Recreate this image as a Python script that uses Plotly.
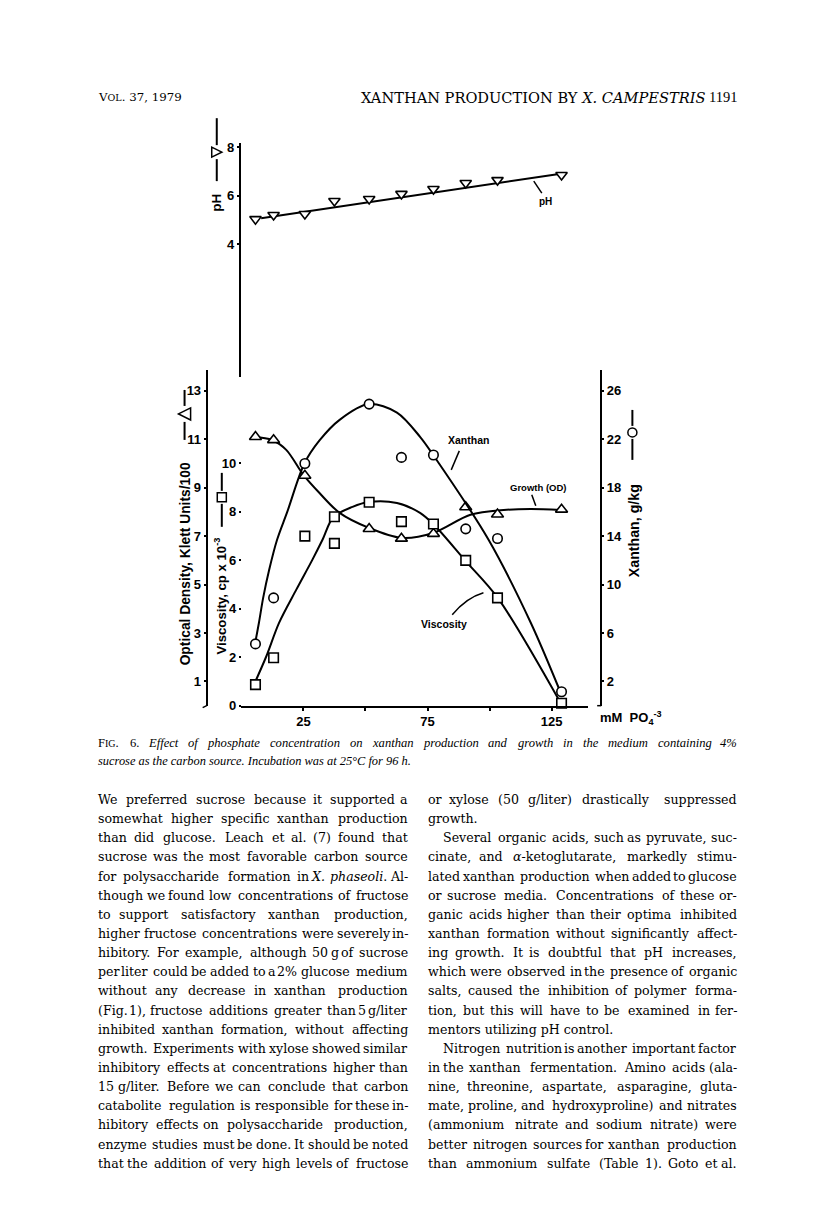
import re
import plotly.graph_objects as go

# page coordinates below are the reference's pixels; px/py map them onto the figure
OFF = 8                   # default body margin of the html page
SX, CX = 0.9937, 2.6      # small screen scaling seen on the rendered page
SY, CY = 0.9916, 2.8
W, H = 800, 1190

# ---------------- data ----------------
# phosphate concentration, mM PO4-3
conc = [5.7, 13, 25.6, 37.5, 51.5, 64.5, 77.4, 90.4, 103.2, 129]
ph = [5.03, 5.2, 5.24, 5.78, 5.86, 6.07, 6.27, 6.52, 6.64, 6.85]
ph_fit_x = [8, 128]
ph_fit_y = [5.07, 6.89]

xan_x = [5.7, 13, 25.6, 51.5, 64.5, 77.4, 90.4, 103.2, 129]
xanthan = [5.1, 8.9, 20.0, 24.9, 20.5, 20.7, 14.6, 13.8, 1.15]
xan_curve_x = [5.5, 7.1, 8.8, 11.2, 14.4, 18.5, 25.4, 31.5, 39.6, 51.4, 62.7, 72.0, 77.3, 99.6, 116.6, 128.5]
xan_curve_y = [5.1, 6.85, 8.9, 11.2, 13.7, 16.0, 20.0, 21.9, 23.6, 24.9, 24.2, 22.2, 20.7, 13.7, 6.85, 1.15]

growth_x = [5.7, 13, 25.6, 51.5, 64.5, 77.4, 90.4, 103.2, 129]
growth = [11.1, 10.97, 9.5, 7.3, 6.9, 7.1, 8.2, 7.9, 8.1]
growth_curve_x = [4.7, 12.4, 18.1, 25.0, 31.5, 39.6, 51.4, 64.4, 77.3, 92.3, 105.7, 116.6, 128.8]
growth_curve_y = [11.09, 10.97, 10.56, 9.53, 8.78, 7.96, 7.34, 6.93, 7.13, 7.88, 8.08, 8.12, 8.08]

visc_x = [5.7, 13, 25.6, 37.5, 37.5, 51.5, 64.5, 77.4, 90.4, 103.2, 129]
viscosity = [0.87, 1.98, 7.0, 7.8, 6.7, 8.4, 7.6, 7.5, 6.0, 4.45, 0.1]
visc_curve_x = [5.1, 10.0, 15.2, 22.1, 28.6, 32.7, 37.1, 44.8, 51.3, 62.7, 72.0, 77.7, 90.3, 103.3, 128.8]
visc_curve_y = [0.87, 2.02, 3.42, 4.78, 6.02, 6.85, 7.79, 8.21, 8.41, 8.37, 7.96, 7.46, 5.98, 4.45, 0.08]

x_ticks = [25, 50, 75, 100, 125]
x_ticktext = ["25", "", "75", "", "125"]
od_ticks = [1, 3, 5, 7, 9, 11, 13]
visc_ticks = [0, 2, 4, 6, 8, 10]
xan_ticks = [2, 6, 10, 14, 18, 22, 26]
ph_ticks = [4, 6, 8]

# ---------------- page text ----------------
header_left = "V<span style='font-size:9.5px'>OL</span>. 37, 1979"
header_right = "XANTHAN PRODUCTION BY <i>X. CAMPESTRIS</i>"
page_no = "1191"
cap1 = ("Effect of phosphate concentration on xanthan production and growth "
        "in the medium containing 4%")
cap2 = "sucrose as the carbon source. Incubation was at 25°C for 96 h."
left_col = [
    "We preferred sucrose because it supported a",
    "somewhat higher specific xanthan production",
    "than did glucose. Leach et al. (7) found that",
    "sucrose was the most favorable carbon source",
    "for polysaccharide formation in <i>X.</i> <i>phaseoli</i>. Al-",
    "though we found low concentrations of fructose",
    "to support satisfactory xanthan production,",
    "higher fructose concentrations were severely in-",
    "hibitory. For example, although 50 g of sucrose",
    "per liter could be added to a 2% glucose medium",
    "without any decrease in xanthan production",
    "(Fig. 1), fructose additions greater than 5 g/liter",
    "inhibited xanthan formation, without affecting",
    "growth. Experiments with xylose showed similar",
    "inhibitory effects at concentrations higher than",
    "15 g/liter. Before we can conclude that carbon",
    "catabolite regulation is responsible for these in-",
    "hibitory effects on polysaccharide production,",
    "enzyme studies must be done. It should be noted",
    "that the addition of very high levels of fructose",
]
right_col = [
    "or xylose (50 g/liter) drastically suppressed",
    "growth.",
    "Several organic acids, such as pyruvate, suc-",
    "cinate, and <i>α</i>-ketoglutarate, markedly stimu-",
    "lated xanthan production when added to glucose",
    "or sucrose media. Concentrations of these or-",
    "ganic acids higher than their optima inhibited",
    "xanthan formation without significantly affect-",
    "ing growth. It is doubtful that pH increases,",
    "which were observed in the presence of organic",
    "salts, caused the inhibition of polymer forma-",
    "tion, but this will have to be examined in fer-",
    "mentors utilizing pH control.",
    "Nitrogen nutrition is another important factor",
    "in the xanthan fermentation. Amino acids (ala-",
    "nine, threonine, aspartate, asparagine, gluta-",
    "mate, proline, and hydroxyproline) and nitrates",
    "(ammonium nitrate and sodium nitrate) were",
    "better nitrogen sources for xanthan production",
    "than ammonium sulfate (Table 1). Goto et al.",
]
right_short = {1, 12}      # paragraph-final lines, not justified
right_indent = {2, 13}     # paragraph starts


def px(x):
    return ((x - CX) / SX - OFF) / W


def py(y):
    return 1 - ((y - CY) / SY - OFF) / H


# rough advance widths (em): DejaVu Serif for the body, Times italic for the caption
SERIF_W = {" ": .318, ".": .318, ",": .318, "-": .338, "(": .391, ")": .391, "/": .337, "%": .95,
           ":": .337, "°": .5, "α": .62}
for c, w in zip("abcdefghijklmnopqrstuvwxyz",
                [.596, .641, .561, .641, .593, .368, .641, .642, .321, .317, .611, .321, .956,
                 .642, .602, .641, .641, .478, .513, .401, .642, .576, .857, .576, .576, .524]):
    SERIF_W[c] = w * 1.09
for c, w in zip("ABCDEFGHIJKLMNOPQRSTUVWXYZ",
                [.725, .731, .731, .827, .731, .689, .79, .87, .418, .418, .753, .699, 1.022,
                 .87, .821, .669, .821, .771, .689, .675, .819, .725, 1.062, .721, .675, .689]):
    SERIF_W[c] = w * 1.09
for c in "0123456789":
    SERIF_W[c] = .68

ITAL_W = {" ": .25, ".": .25, ",": .25, "%": .833, "°": .4}
for c, w in zip("abcdefghijklmnopqrstuvwxyz",
                [.5, .5, .444, .5, .444, .278, .5, .5, .278, .278, .444, .278, .722,
                 .5, .5, .5, .5, .389, .389, .278, .5, .444, .667, .444, .444, .389]):
    ITAL_W[c] = w
for c in "0123456789":
    ITAL_W[c] = .5
ITAL_W.update({"E": .611, "I": .333, "C": .667, "F": .556, "G": .722})


def plain(s):
    return re.sub(r"<[^>]+>", "", s)


def text_w(s, size, table):
    return sum(table.get(c, .6) for c in plain(s)) * size


SERIF = "DejaVu Serif"
TIMES = "Liberation Serif"
anns = []


def put(text, x, y, size, anchor="left", family=SERIF):
    anns.append(dict(text=text, x=px(x), y=py(y), xref="paper", yref="paper", showarrow=False,
                     xanchor=anchor, yanchor="middle",
                     font=dict(family=family, size=size, color="black")))


def justify(words, x0, x1, y, size, family=SERIF, table=SERIF_W):
    # end words pinned to the column edges, inner words placed by their centres
    ws = [text_w(w, size, table) for w in words]
    n = len(words)
    gap = (x1 - x0 - sum(ws)) / (n - 1)
    for i, w in enumerate(words):
        left = x0 + sum(ws[:i]) + gap * i
        if i == 0:
            put(w, x0, y, size, "left", family)
        elif i == n - 1:
            put(w, x1, y, size, "right", family)
        else:
            put(w, left + ws[i] / 2, y, size, "center", family)


BODY = 12.6
LINE = 19.15
for i, line in enumerate(left_col):
    justify(line.split(" "), 98, 410, 800 + i * LINE, BODY)
for i, line in enumerate(right_col):
    x0 = 441 if i in right_indent else 426
    if i in right_short:
        put(line, x0, 800 + i * LINE, BODY)
    else:
        justify(line.split(" "), x0, 737, 800 + i * LINE, BODY)

cap_words = ["F<span style='font-size:10px'>IG</span>.", "6."] + ["<i>%s</i>" % w for w in cap1.split(" ")]
justify(cap_words, 98, 737, 743, 12.6, TIMES, ITAL_W)
put("<i>" + cap2 + "</i>", 98, 761, 12.4, "left", TIMES)
put(header_left, 98, 97, 11.8)
put(header_right, 705, 97, 14.6, "right")
put(page_no, 737, 97, 14.5, "right", TIMES)

# ---------------- chart ----------------
SANS = "Liberation Sans"
blk = "black"
fig = go.Figure()


def curve(x, y, yax):
    fig.add_trace(go.Scatter(x=x, y=y, yaxis=yax, mode="lines", hoverinfo="skip",
                             line=dict(color=blk, width=2, shape="spline", smoothing=0.9)))


def points(x, y, yax, sym, size):
    fig.add_trace(go.Scatter(x=x, y=y, yaxis=yax, mode="markers", cliponaxis=False,
                             marker=dict(symbol=sym, size=size, color="white",
                                         line=dict(color=blk, width=1.6))))


fig.add_trace(go.Scatter(x=ph_fit_x, y=ph_fit_y, yaxis="y4", mode="lines", line=dict(color=blk, width=2)))
points(conc, ph, "y4", "triangle-down", 10)
curve(xan_curve_x, xan_curve_y, "y3")
curve(growth_curve_x, growth_curve_y, "y")
curve(visc_curve_x, visc_curve_y, "y2")
points(xan_x, xanthan, "y3", "circle", 9.5)
points(growth_x, growth, "y", "triangle-up", 10.5)
points(visc_x, viscosity, "y2", "square", 9.5)

tf = dict(family=SANS, size=13, color=blk, weight="bold")
common = dict(showgrid=False, zeroline=False, tickfont=tf, ticks="outside", ticklen=2,
              tickwidth=2, tickcolor=blk, linecolor=blk, linewidth=2)
main_dom = [py(706), py(370)]


def bold(text, x, y, size, angle=0, family=SANS):
    anns.append(dict(text="<b>" + text + "</b>", x=px(x), y=py(y), xref="paper", yref="paper",
                     showarrow=False, xanchor="center", yanchor="middle", textangle=angle,
                     font=dict(family=family, size=size, color=blk)))


# axis titles (rotated, read bottom to top)
bold("Optical Density, Klett Units/100", 187, 564, 13.8, -90)
bold("Viscosity, cp x 10<sup>-3</sup>", 222, 596, 13.2, -90)
bold("Xanthan, g/kg", 632, 531, 14.2, -90)
bold("pH", 217, 203, 13.5, -90)

bold("mM  PO<sub>4</sub><sup>-3</sup>", 630, 718, 13)
bold("Xanthan", 468, 440, 10.5)
bold("Growth (OD)", 537, 488, 9.5)
bold("Viscosity", 444, 624, 10.5)
bold("pH", 545, 201, 10)

shapes = []


def seg(x0, y0, x1, y1, w=1.5):
    shapes.append(dict(type="line", xref="paper", yref="paper", x0=px(x0), y0=py(y0),
                       x1=px(x1), y1=py(y1), line=dict(color=blk, width=w)))


def key(x, top, s0, s1, bot, sym):
    # "—symbol—" key beside an axis title, drawn vertically
    seg(x, top, x, s0 - 2, 2)
    seg(x, s1 + 2, x, bot, 2)
    r = (s1 - s0) / 2
    yc = (s0 + s1) / 2
    style = dict(xref="paper", yref="paper", line=dict(color=blk, width=1.5), fillcolor="white")
    if sym == "circle":
        shapes.append(dict(type="circle", x0=px(x - r), x1=px(x + r), y0=py(s0), y1=py(s1), **style))
    elif sym == "square":
        shapes.append(dict(type="rect", x0=px(x - r), x1=px(x + r), y0=py(s0), y1=py(s1), **style))
    else:
        d = -1 if sym == "left" else 1
        pts = [(x + d * r, yc), (x - d * r, s0), (x - d * r, s1)]
        path = "M " + " L ".join("%f %f" % (px(a), py(b)) for a, b in pts) + " Z"
        shapes.append(dict(type="path", path=path, **style))


key(186, 390, 408, 420, 440, "left")
key(223, 473, 493, 502, 527, "square")
key(631, 410, 428, 437, 460, "circle")
key(218, 118, 147, 157, 181, "right")

seg(459, 451, 451, 470)          # Xanthan leader
seg(531, 495, 535, 506)          # Growth leader
seg(533, 181, 541, 193)          # pH leader
shapes.append(dict(type="path", xref="paper", yref="paper",
                   path="M %f %f Q %f %f %f %f" % (px(452), py(615), px(466), py(598), px(483), py(593)),
                   line=dict(color=blk, width=1.5)))
seg(208, 706, 204, 708)          # axis foot hooks
seg(600, 706, 596, 706)

fig.update_layout(
    width=W, height=H, margin=dict(l=0, r=0, t=0, b=0),
    paper_bgcolor="white", plot_bgcolor="rgba(0,0,0,0)", showlegend=False,
    xaxis=dict(domain=[px(242.4), px(587)], range=[0, 139.7], anchor="y", showline=True,
               tickvals=x_ticks, ticktext=x_ticktext, **{**common, "ticklen": 3}),
    yaxis=dict(domain=main_dom, range=[0, 13.86], anchor="free", position=px(208),
               showline=True, tickvals=od_ticks, **common),
    yaxis2=dict(overlaying="y", range=[0, 13.86], anchor="free", position=px(242),
                showline=False, tickvals=visc_ticks, **common),
    yaxis3=dict(overlaying="y", range=[0, 27.72], anchor="free", position=px(600), side="right",
                showline=True, tickvals=xan_ticks, **common),
    yaxis4=dict(domain=[py(377), py(143)], range=[-1.485, 8.165], anchor="free", position=px(241),
                showline=True, tickvals=ph_ticks, **common),
    annotations=anns,
    shapes=shapes,
)
fig.write_html("out.html")
